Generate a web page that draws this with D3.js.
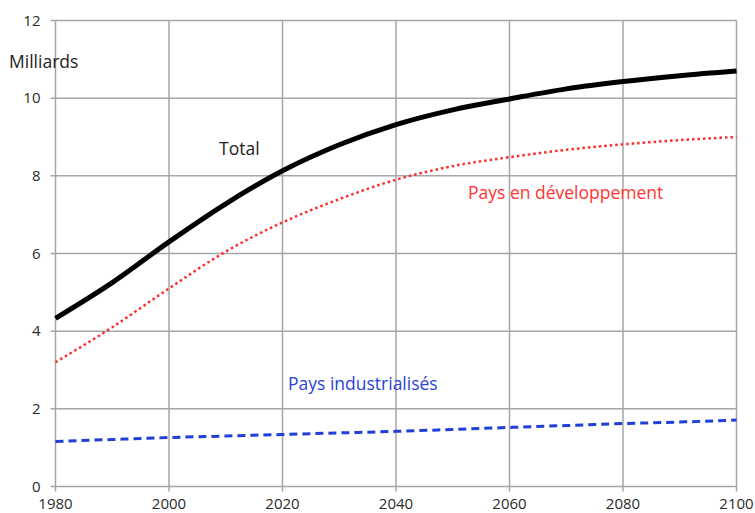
<!DOCTYPE html>
<html>
<head>
<meta charset="utf-8">
<script src="https://cdn.jsdelivr.net/npm/d3@7"></script>
<style>
  body { margin: 0; background: #fff; }
  text { font-family: "Open Sans", sans-serif; }
</style>
</head>
<body>
<svg id="chart" width="755" height="513"></svg>
<script>
// years
const years = [1980, 1990, 2000, 2010, 2020, 2030, 2040, 2050, 2060, 2070, 2080, 2090, 2100];

// population in billions
const total       = [4.33, 5.25, 6.3, 7.28, 8.13, 8.8, 9.32, 9.7, 9.98, 10.24, 10.43, 10.58, 10.7];
const developpement = [3.2, 4.1, 5.1, 6.05, 6.8, 7.4, 7.9, 8.25, 8.48, 8.67, 8.81, 8.92, 9.0];
const industrialises = [1.16, 1.21, 1.26, 1.3, 1.34, 1.38, 1.42, 1.47, 1.52, 1.57, 1.62, 1.66, 1.71];

const xTicks = [1980, 2000, 2020, 2040, 2060, 2080, 2100];
const yTicks = [0, 2, 4, 6, 8, 10, 12];

const svg = d3.select("#chart");

const x = d3.scaleLinear().domain([1980, 2100]).range([55.5, 736.5]);
const y = d3.scaleLinear().domain([0, 12]).range([486.5, 20.5]);

// grid
svg.append("g")
    .selectAll("line")
    .data(xTicks)
    .join("line")
    .attr("x1", d => x(d)).attr("x2", d => x(d))
    .attr("y1", y(12)).attr("y2", y(0) + 5)
    .attr("stroke", "#a6a6a6").attr("stroke-width", 1.5);

svg.append("g")
    .selectAll("line")
    .data(yTicks)
    .join("line")
    .attr("x1", x(1980) - 5).attr("x2", x(2100))
    .attr("y1", d => y(d)).attr("y2", d => y(d))
    .attr("stroke", "#a6a6a6").attr("stroke-width", 1.5);

// tick labels
svg.append("g")
    .selectAll("text")
    .data(xTicks)
    .join("text")
    .attr("x", d => x(d)).attr("y", y(0) + 22)
    .attr("text-anchor", "middle")
    .attr("font-size", 15).attr("fill", "#2b2b2b")
    .text(d => d);

svg.append("g")
    .selectAll("text")
    .data(yTicks)
    .join("text")
    .attr("x", x(1980) - 15).attr("y", d => y(d) + 5)
    .attr("text-anchor", "end")
    .attr("font-size", 15).attr("fill", "#2b2b2b")
    .text(d => d);

svg.append("text")
    .attr("x", 9).attr("y", 68)
    .attr("font-size", 17.5).attr("fill", "#222")
    .text("Milliards");

const line = d3.line()
    .x((d, i) => x(years[i]))
    .y(d => y(d))
    .curve(d3.curveMonotoneX);

svg.append("path")
    .datum(industrialises)
    .attr("d", line)
    .attr("fill", "none")
    .attr("stroke", "#1f3fd6").attr("stroke-width", 3)
    .attr("stroke-dasharray", "8,5");

svg.append("path")
    .datum(developpement)
    .attr("d", line)
    .attr("fill", "none")
    .attr("stroke", "#ff2a2a").attr("stroke-width", 2.5)
    .attr("stroke-dasharray", "2.5,3");

svg.append("path")
    .datum(total)
    .attr("d", line)
    .attr("fill", "none")
    .attr("stroke", "#000").attr("stroke-width", 5);

// series labels
svg.append("text")
    .attr("x", 219).attr("y", 155)
    .attr("font-size", 17.5).attr("fill", "#222")
    .text("Total");

svg.append("text")
    .attr("x", 468).attr("y", 199)
    .attr("font-size", 17.5).attr("fill", "#ff3333")
    .text("Pays en développement");

svg.append("text")
    .attr("x", 288).attr("y", 390)
    .attr("font-size", 17.5).attr("fill", "#2a44d4")
    .text("Pays industrialisés");
</script>
</body>
</html>
